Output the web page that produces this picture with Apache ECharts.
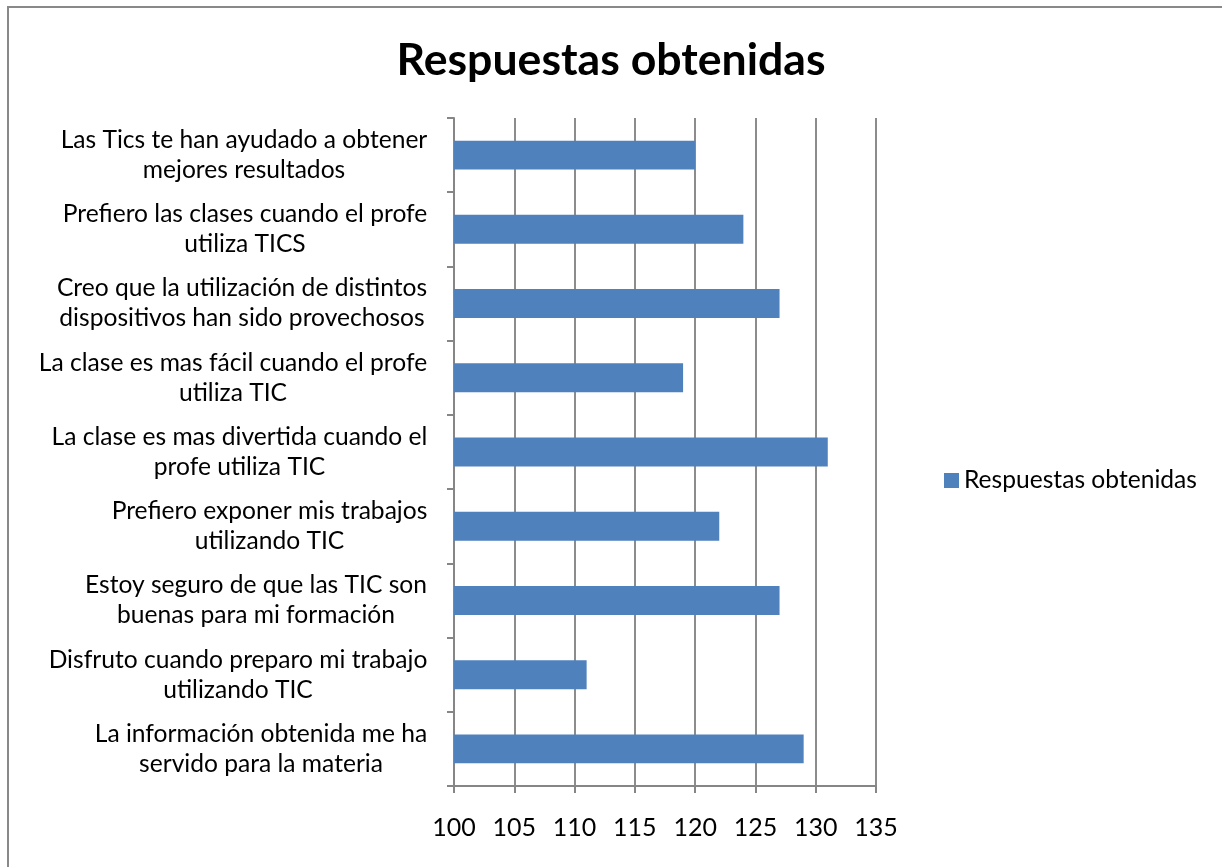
<!DOCTYPE html>
<html>
<head>
<meta charset="utf-8">
<title>Respuestas obtenidas</title>
<script src="https://cdn.jsdelivr.net/npm/echarts@6/dist/echarts.min.js"></script>
<style>
  html, body { margin: 0; padding: 0; background: #fff; }
  #chart { width: 1222px; height: 867px; }
</style>
</head>
<body>
<div id="chart"></div>
<script>
// datos (de arriba a abajo)
var categories = [
  "Las Tics te han ayudado a obtener\nmejores resultados",
  "Prefiero las clases cuando el profe\nutiliza TICS",
  "Creo que la utilización de distintos\ndispositivos han sido provechosos",
  "La clase es mas fácil cuando el profe\nutiliza TIC",
  "La clase es mas divertida cuando el\nprofe utiliza TIC",
  "Prefiero exponer mis trabajos\nutilizando TIC",
  "Estoy seguro de que las TIC son\nbuenas para mi formación",
  "Disfruto cuando preparo mi trabajo\nutilizando TIC",
  "La información obtenida me ha\nservido para la materia"
];
var respuestas = [120, 124, 127, 119, 131, 122, 127, 111, 129];
var seriesName = "Respuestas obtenidas";
var xTicks = [100, 105, 110, 115, 120, 125, 130, 135];

var fontName = "Lato";
var ctx = document.createElement("canvas").getContext("2d");
function textWidth(str, size, weight) {
  ctx.font = (weight || "normal") + " " + size + "px \"" + fontName + "\"";
  return ctx.measureText(str).width;
}
// tamaños de letra ajustados al ancho del original (Calibri)
var labelSize = Math.round(20 * 366 / textWidth("Las Tics te han ayudado a obtener", 20) * 10) / 10;
var titleSize = Math.round(40 * 429 / textWidth(seriesName, 40, "bold") * 10) / 10;
var tickSize = 25;

// las dos lineas van centradas entre si, como en Excel
var richStyles = {};
function blockWidth(value) {
  var w = 0;
  value.split("\n").forEach(function (l) { w = Math.max(w, textWidth(l, labelSize)); });
  return Math.ceil(w) + 1;
}
categories.forEach(function (c) {
  var w = blockWidth(c);
  richStyles["c" + w] = { width: w, align: "center", fontSize: labelSize, fontFamily: fontName, color: "#000", lineHeight: 30 };
});
function wrapLabel(value) {
  var key = "c" + blockWidth(value);
  return value.split("\n").map(function (l) { return "{" + key + "|" + l + "}"; }).join("\n");
}

var myChart = echarts.init(document.getElementById("chart"));
var option = {
  animation: false,
  textStyle: { fontFamily: fontName },
  title: {
    text: seriesName,
    left: "center",
    top: 33,
    textStyle: { fontSize: titleSize, fontWeight: "bold", color: "#000", fontFamily: fontName }
  },
  legend: {
    left: 939,
    top: 463,
    itemWidth: 15,
    itemHeight: 15,
    icon: "rect",
    itemGap: 8,
    textStyle: { fontSize: labelSize, color: "#000", fontFamily: fontName },
    data: [seriesName]
  },
  grid: { left: 454, right: 346, top: 118, bottom: 81, containLabel: false },
  xAxis: {
    type: "value",
    min: xTicks[0],
    max: xTicks[xTicks.length - 1],
    interval: 5,
    axisLine: { show: true, lineStyle: { color: "#868686", width: 2 } },
    axisTick: { show: true, length: 7, lineStyle: { color: "#868686", width: 2 } },
    splitLine: { show: true, lineStyle: { color: "#8c8c8c", width: 2 } },
    axisLabel: { margin: 29, fontSize: tickSize, color: "#000", fontFamily: fontName }
  },
  yAxis: {
    type: "category",
    inverse: true,
    data: categories,
    axisLine: { show: true, lineStyle: { color: "#868686", width: 2 } },
    axisTick: { show: true, length: 7, lineStyle: { color: "#868686", width: 2 } },
    splitLine: { show: false },
    axisLabel: {
      margin: 26,
      formatter: wrapLabel,
      rich: richStyles
    }
  },
  series: [{
    name: seriesName,
    type: "bar",
    data: respuestas,
    barCategoryGap: "61%",
    itemStyle: { color: "#4f81bd" }
  }],
  graphic: [{
    type: "rect",
    z: 100,
    shape: { x: 8, y: 7, width: 1400, height: 1000 },
    style: { fill: "none", stroke: "#898989", lineWidth: 2 }
  }]
};
option && myChart.setOption(option);
</script>
</body>
</html>
